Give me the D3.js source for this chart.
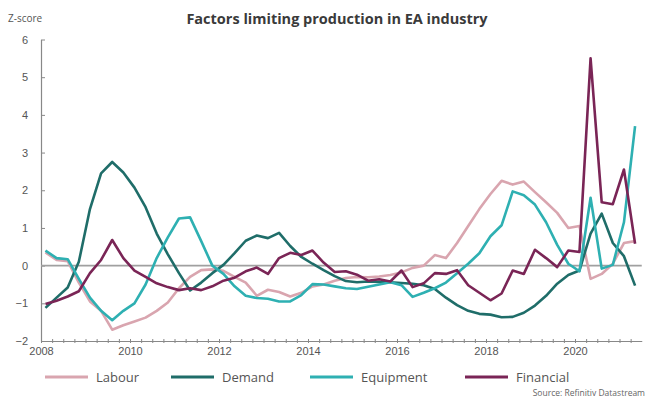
<!DOCTYPE html>
<html>
<head>
<meta charset="utf-8">
<script src="https://cdn.jsdelivr.net/npm/d3@7"></script>
<style>
  body { margin: 0; background: #fff; }
  svg { font-family: "Open Sans", "Liberation Sans", sans-serif; }
</style>
</head>
<body>
<svg id="chart"></svg>
<script>
// Quarterly survey data, 2008Q1 .. 2021Q2
const startYear = 2008;
const labour = [0.35, 0.15, 0.12, -0.45, -0.95, -1.2, -1.7, -1.58, -1.48, -1.38,
  -1.2, -0.98, -0.6, -0.3, -0.12, -0.1, -0.14, -0.3, -0.45, -0.8,
  -0.64, -0.7, -0.82, -0.72, -0.55, -0.5, -0.4, -0.33, -0.3, -0.31,
  -0.29, -0.25, -0.18, -0.06, 0, 0.28, 0.2, 0.6, 1.05, 1.5,
  1.9, 2.25, 2.15, 2.23, 1.95, 1.68, 1.4, 1.0, 1.05, -0.35,
  -0.22, 0.05, 0.6, 0.65];
const demand = [-1.12, -0.85, -0.58, 0.1, 1.5, 2.45, 2.75, 2.47, 2.07, 1.55,
  0.85, 0.3, -0.2, -0.66, -0.45, -0.2, 0.02, 0.33, 0.66, 0.8,
  0.73, 0.87, 0.52, 0.23, 0.05, -0.12, -0.28, -0.41, -0.44, -0.42,
  -0.43, -0.44, -0.46, -0.48, -0.52, -0.62, -0.85, -1.05, -1.2, -1.28,
  -1.3, -1.37, -1.36, -1.25, -1.06, -0.8, -0.48, -0.25, -0.13, 0.85,
  1.38, 0.6, 0.25, -0.53];
const equipment = [0.4, 0.2, 0.17, -0.35, -0.85, -1.2, -1.45, -1.2, -1.0, -0.5,
  0.2, 0.75, 1.25, 1.28, 0.65, 0, -0.22, -0.55, -0.8, -0.86,
  -0.88, -0.95, -0.95, -0.78, -0.49, -0.5, -0.55, -0.6, -0.62, -0.56,
  -0.5, -0.44, -0.52, -0.83, -0.72, -0.6, -0.45, -0.2, 0.05, 0.33,
  0.78, 1.07, 1.97, 1.87, 1.62, 1.15, 0.55, 0.05, -0.15, 1.8,
  -0.08, 0.02, 1.15, 3.7];
const financial = [-1.02, -0.93, -0.82, -0.68, -0.2, 0.15, 0.68, 0.2, -0.13, -0.3,
  -0.47, -0.57, -0.65, -0.6, -0.65, -0.55, -0.4, -0.32, -0.15, -0.05,
  -0.22, 0.2, 0.34, 0.28, 0.4, 0.08, -0.17, -0.15, -0.24, -0.4,
  -0.36, -0.42, -0.13, -0.57, -0.47, -0.2, -0.22, -0.12, -0.52, -0.72,
  -0.92, -0.74, -0.13, -0.22, 0.42, 0.2, -0.04, 0.4, 0.36, 5.5,
  1.68, 1.63, 2.55, 0.58];

const seriesNames = ["Labour", "Demand", "Equipment", "Financial"];
const seriesValues = [labour, demand, equipment, financial];
const seriesColors = ["#d9a5af", "#1f6d69", "#2eb0b2", "#7a2556"];
const yTicks = [-2, -1, 0, 1, 2, 3, 4, 5, 6];
const yearTicks = [2008, 2010, 2012, 2014, 2016, 2018, 2020];

const width = 649, height = 401;
const margin = { top: 39.5, right: 7, bottom: 60, left: 41 };

const svg = d3.select("#chart")
  .attr("width", width)
  .attr("height", height);

// quarter index -> decimal date (survey month within quarter)
const dateOf = i => startYear + i * 0.25 + 0.1;

const xScale = d3.scaleLinear()
  .domain([2008, 2021.5])
  .range([margin.left, 641.75]);

const yScale = d3.scaleLinear()
  .domain([-2, 6])
  .range([341, margin.top]);

// titles
svg.append("text")
  .attr("x", 337)
  .attr("y", 24)
  .attr("text-anchor", "middle")
  .style("font-size", "14.5px")
  .style("font-weight", "700")
  .style("fill", "#3a3a3a")
  .text("Factors limiting production in EA industry");

svg.append("text")
  .attr("x", 8)
  .attr("y", 22)
  .style("font-size", "10px")
  .style("fill", "#555")
  .text("Z-score");

// y axis, ticks pointing into the plot
const yAxis = d3.axisLeft(yScale).tickValues(yTicks).tickSizeInner(-4).tickSizeOuter(0).tickPadding(13);
const yAxisGroup = svg.append("g")
  .attr("transform", `translate(${margin.left},0)`)
  .call(yAxis);
yAxisGroup.select(".domain").attr("stroke", "#888").attr("stroke-width", 1.2);
yAxisGroup.selectAll(".tick line").attr("stroke", "#888");
yAxisGroup.selectAll("text").style("font-size", "11px").style("fill", "#555");

// x axis: quarterly minor ticks crossing the line, labels every two years
const quarterTicks = d3.range(2008, 2021.5, 0.25);
const xMinor = d3.axisBottom(xScale).tickValues(quarterTicks).tickSize(4).tickFormat("");
const xMinorGroup = svg.append("g")
  .attr("transform", `translate(0,${yScale(-2) - 2})`)
  .call(xMinor);
xMinorGroup.select(".domain").remove();
xMinorGroup.selectAll(".tick line").attr("stroke", "#888");

const xAxis = d3.axisBottom(xScale).tickValues(yearTicks).tickSize(0).tickPadding(6).tickFormat(d3.format("d"));
const xAxisGroup = svg.append("g")
  .attr("transform", `translate(0,${yScale(-2)})`)
  .call(xAxis);
xAxisGroup.select(".domain").attr("stroke", "#888").attr("stroke-width", 1.2);
xAxisGroup.selectAll("text").style("font-size", "11px").style("fill", "#555");

// zero line
svg.append("line")
  .attr("x1", xScale(2008))
  .attr("x2", xScale(2021.5))
  .attr("y1", yScale(0))
  .attr("y2", yScale(0))
  .attr("stroke", "#a0a0a0")
  .attr("stroke-width", 1.6);

// lines
const line = d3.line()
  .x((d, i) => xScale(dateOf(i)))
  .y(d => yScale(d));

svg.selectAll(".line")
  .data(seriesValues)
  .enter()
  .append("path")
  .attr("class", "line")
  .attr("fill", "none")
  .attr("stroke", (d, i) => seriesColors[i])
  .attr("stroke-width", 2.6)
  .attr("stroke-linejoin", "round")
  .attr("d", d => line(d));

// legend
const legendX = [45, 171, 310, 465];
const legend = svg.selectAll(".legend-item")
  .data(seriesNames)
  .enter()
  .append("g")
  .attr("class", "legend-item")
  .attr("transform", (d, i) => `translate(${legendX[i]},377)`);

legend.append("line")
  .attr("x1", 0)
  .attr("x2", 43)
  .attr("stroke", (d, i) => seriesColors[i])
  .attr("stroke-width", 3);

legend.append("text")
  .attr("x", 51)
  .attr("y", 5)
  .style("font-size", "13px")
  .style("fill", "#555")
  .text(d => d);

svg.append("text")
  .attr("x", 645)
  .attr("y", 396)
  .attr("text-anchor", "end")
  .style("font-size", "8.5px")
  .style("fill", "#666")
  .text("Source: Refinitiv Datastream");
</script>
</body>
</html>
